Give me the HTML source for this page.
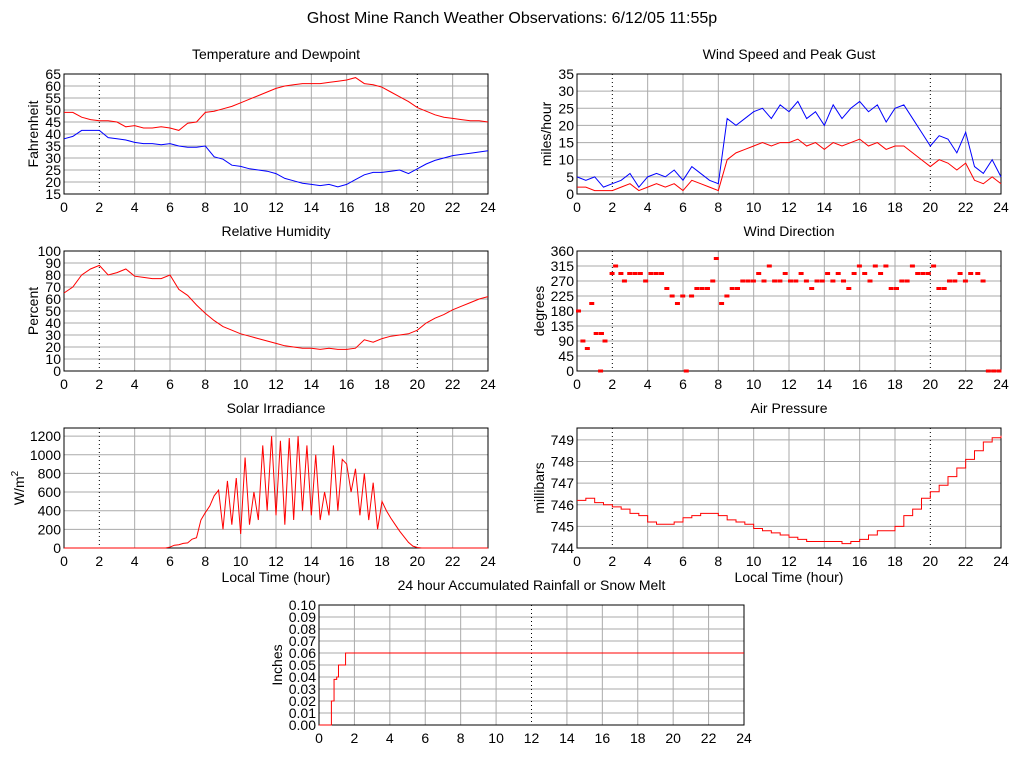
<!DOCTYPE html>
<html><head><meta charset="utf-8"><style>
body{margin:0;background:#fff;}
svg{display:block;font-family:"Liberation Sans",sans-serif;}
</style></head><body>
<svg id="chart" width="1024" height="768" viewBox="0 0 1024 768">
<text x="512" y="23" text-anchor="middle" font-size="16">Ghost Mine Ranch Weather Observations: 6/12/05 11:55p</text>
</svg>
<script>
const hoursHalf = Array.from({length:49},(_, i)=>i*0.5);
const tempF = [49,49,47,46,45.5,45.5,45,43,43.5,42.5,42.5,43,42.5,41.5,44.5,45,49,49.5,50.5,51.5,53,54.5,56,57.5,59,60,60.5,61,61,61,61.5,62,62.5,63.5,61,60.5,59.5,57.5,55.5,53.5,51,49.5,48,47,46.5,46,45.5,45.5,45];
const dewF = [38,39,41.5,41.5,41.5,38.5,38,37.5,36.5,36,36,35.5,36,35,34.5,34.5,35,30.5,29.5,27,26.5,25.5,25,24.5,23.5,21.5,20.5,19.5,19,18.5,19,18,19,21,23,24,24,24.5,25,23.5,25.5,27.5,29,30,31,31.5,32,32.5,33];
const gustMph = [5,4,5,2,3,4,6,2,5,6,5,7,4,8,6,4,3,22,20,22,24,25,22,26,24,27,22,24,20,26,22,25,27,24,26,21,25,26,22,18,14,17,16,12,18,8,6,10,5];
const avgMph = [2,2,1,1,1,2,3,1,2,3,2,3,1,4,3,2,1,10,12,13,14,15,14,15,15,16,14,15,13,15,14,15,16,14,15,13,14,14,12,10,8,10,9,7,9,4,3,5,3];
const rhPct = [65,70,80,85,88,80,82,85,79,78,77,77,80,68,63,55,48,42,37,34,31,29,27,25,23,21,20,19,19,18,19,18,18,19,26,24,27,29,30,31,34,40,44,47,51,54,57,60,62];
const dirHours = [0,0.25,0.5,0.75,1,1.25,1.3,1.5,1.9,2.1,2.4,2.6,2.9,3.2,3.5,3.8,4.1,4.4,4.7,5,5.3,5.6,5.9,6.1,6.4,6.7,7,7.3,7.6,7.8,8.1,8.4,8.7,9,9.3,9.6,9.9,10.2,10.5,10.8,11.1,11.4,11.7,12,12.3,12.6,12.9,13.2,13.5,13.8,14.1,14.4,14.7,15,15.3,15.6,15.9,16.2,16.5,16.8,17.1,17.4,17.7,18,18.3,18.6,18.9,19.2,19.5,19.8,20.1,20.4,20.7,21,21.3,21.6,21.9,22.2,22.6,22.9,23.2,23.5,23.8];
const dirDeg = [180,90,67.5,202.5,112.5,0,112.5,90,292.5,315,292.5,270,292.5,292.5,292.5,270,292.5,292.5,292.5,247.5,225,202.5,225,0,225,247.5,247.5,247.5,270,337.5,202.5,225,247.5,247.5,270,270,270,292.5,270,315,270,270,292.5,270,270,292.5,270,247.5,270,270,292.5,270,292.5,270,247.5,292.5,315,292.5,270,315,292.5,315,247.5,247.5,270,270,315,292.5,292.5,292.5,315,247.5,247.5,270,270,292.5,270,292.5,292.5,270,0,0,0,292.5,0,337.5];
const hoursQuarter = Array.from({length:97},(_, i)=>i*0.25);
const solarWm2 = [0,0,0,0,0,0,0,0,0,0,0,0,0,0,0,0,0,0,0,0,0,0,0,0,
10,30,35,50,55,95,110,300,380,450,560,620,200,720,250,750,150,970,250,600,300,1100,400,1200,350,1150,250,1180,300,1200,400,1100,350,1000,300,600,350,1100,400,950,900,600,850,350,800,300,700,200,500,400,320,250,180,120,60,20,5,
0,0,0,0,0,0,0,0,0,0,0,0,0,0,0,0];
const pressMb = [746.2,746.3,746.1,746.0,745.9,745.8,745.6,745.5,745.2,745.1,745.1,745.2,745.4,745.5,745.6,745.6,745.5,745.3,745.2,745.1,744.9,744.8,744.7,744.6,744.5,744.4,744.3,744.3,744.3,744.3,744.2,744.3,744.4,744.6,744.8,744.8,745.0,745.5,745.8,746.3,746.6,746.9,747.3,747.7,748.1,748.5,748.9,749.1,749.2];
const rainHours = [0,0.65,0.7,0.85,1.0,1.1,1.45,1.5,24];
const rainIn = [0,0,0.02,0.038,0.04,0.05,0.05,0.06,0.06];
const xTicks = [0,2,4,6,8,10,12,14,16,18,20,22,24];

const NS='http://www.w3.org/2000/svg';
const svg=document.getElementById('chart');
function mk(tag,attrs,parent){const e=document.createElementNS(NS,tag);for(const k in attrs)e.setAttribute(k,attrs[k]);(parent||svg).appendChild(e);return e;}

function panel(o){
  const g=mk('g',{});
  
  
  const sx=h=>o.x+h/24*o.w, sy=v=>o.y+o.h-(v-o.ymin)/(o.ymax-o.ymin)*o.h;
  o.sx=sx;o.sy=sy;
  o.yticks.forEach(v=>{const y=sy(v);const l=mk('line',{x1:o.x,x2:o.x+o.w,y1:y,y2:y,stroke:'#aaa','stroke-width':1},g);
    
    
    const t=mk('text',{x:o.x-3,y:y+5,'text-anchor':'end','font-size':14},g);t.textContent=o.fmt?o.fmt(v):v;
    
    });
  xTicks.forEach(h=>{const x=sx(h);const dotted=o.dots.includes(h);
    const l=mk('line',{x1:x,x2:x,y1:o.y,y2:o.y+o.h,stroke:dotted?'#000':'#aaa','stroke-width':1,'stroke-dasharray':dotted?'1,3':'none'},g);
    
    
    const t=mk('text',{x:x,y:o.y+o.h+18,'text-anchor':'middle','font-size':14},g);t.textContent=h;
    
    });
  const b=mk('rect',{x:o.x,y:o.y,width:o.w,height:o.h,fill:'none',stroke:'#000','stroke-width':1},g);
  
  
  const tt=mk('text',{x:o.x+o.w/2,y:o.y-15,'text-anchor':'middle','font-size':14},g);tt.textContent=o.title;
  
  
  const yl=mk('text',{x:0,y:0,'text-anchor':'middle','font-size':14,transform:`translate(${o.ylx},${o.y+o.h/2}) rotate(-90)`},g);
  
  
  if(o.sup){yl.textContent=o.ylab;const s=mk('tspan',{dy:-6,'font-size':10},yl);s.textContent=o.sup;}else yl.textContent=o.ylab;
  if(o.xlab){const xl=mk('text',{x:o.x+o.w/2,y:o.y+o.h+34,'text-anchor':'middle','font-size':14},g);xl.textContent=o.xlab;
    
    }
  o.g=g;return o;
}
function line(o,xs,ys,color,name,step){
  let d='';xs.forEach((h,i)=>{const x=o.sx(h),y=o.sy(ys[i]);
    if(i===0)d+=`M${x},${y}`;else if(step)d+=`H${x}V${y}`;else d+=`L${x},${y}`;});
  const p=mk('path',{d:d,fill:'none',stroke:color,'stroke-width':1},o.g);
  
  
}
const rng=(a,b,s)=>{const r=[];for(let v=a;v<=b+1e-9;v+=s)r.push(+v.toFixed(4));return r;};

const p1=panel({name:'temperature-panel',x:64,y:74,w:424,h:120,ymin:15,ymax:65,yticks:rng(15,65,5),title:'Temperature and Dewpoint',ylab:'Fahrenheit',ylx:38,dots:[2,20]});
line(p1,hoursHalf,tempF,'#f00','temperature-line');
line(p1,hoursHalf,dewF,'#00f','dewpoint-line');
const p2=panel({name:'wind-speed-panel',x:577,y:74,w:424,h:120,ymin:0,ymax:35,yticks:rng(0,35,5),title:'Wind Speed and Peak Gust',ylab:'miles/hour',ylx:551,dots:[2,20]});
line(p2,hoursHalf,gustMph,'#00f','peak-gust-line');
line(p2,hoursHalf,avgMph,'#f00','wind-speed-line');
const p3=panel({name:'humidity-panel',x:64,y:251,w:424,h:120,ymin:0,ymax:100,yticks:rng(0,100,10),title:'Relative Humidity',ylab:'Percent',ylx:38,dots:[2,20]});
line(p3,hoursHalf,rhPct,'#f00','humidity-line');
const p4=panel({name:'wind-direction-panel',x:577,y:251,w:424,h:120,ymin:0,ymax:360,yticks:rng(0,360,45),title:'Wind Direction',ylab:'degrees',ylx:544,dots:[2,20]});
dirHours.forEach((h,i)=>{const r=mk('rect',{x:p4.sx(h)-1,y:p4.sy(dirDeg[i])-1.5,width:5,height:3,fill:'#f00'},p4.g);
  
  });
const p5=panel({name:'solar-panel',x:64,y:428,w:424,h:120,ymin:0,ymax:1287,yticks:rng(0,1200,200),title:'Solar Irradiance',ylab:'W/m',sup:'2',ylx:24,xlab:'Local Time (hour)',dots:[2,20]});
line(p5,hoursQuarter,solarWm2,'#f00','solar-line');
const p6=panel({name:'pressure-panel',x:577,y:428,w:424,h:120,ymin:744,ymax:749.55,yticks:rng(744,749,1),title:'Air Pressure',ylab:'millibars',ylx:544,xlab:'Local Time (hour)',dots:[2,20]});
line(p6,hoursHalf,pressMb,'#f00','pressure-line',true);
const p7=panel({name:'rainfall-panel',x:319,y:605,w:425,h:120,ymin:0,ymax:0.1,yticks:rng(0,0.1,0.01),fmt:v=>v.toFixed(2),title:'24 hour Accumulated Rainfall or Snow Melt',ylab:'Inches',ylx:282,dots:[12]});
line(p7,rainHours,rainIn,'#f00','rainfall-line',true);
</script>
</body></html>
